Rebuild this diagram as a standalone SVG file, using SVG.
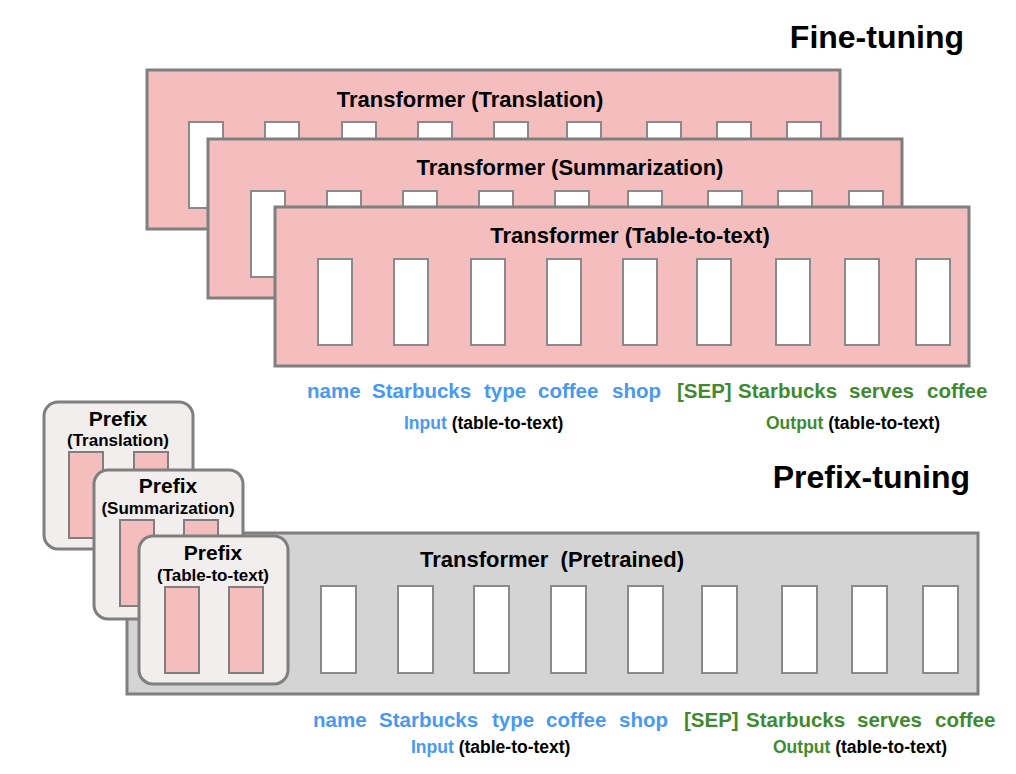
<svg xmlns="http://www.w3.org/2000/svg" width="1016" height="774" viewBox="0 0 1016 774">
<style>
text{font-family:"Liberation Sans",Arial,Helvetica,sans-serif;font-weight:bold}
.big{font-size:32px;fill:#000}
.ttl{font-size:22px;fill:#000;text-anchor:middle}
.pbox{fill:#f4bebe;stroke:#7f7f7f;stroke-width:3}
.gbox{fill:#d4d4d4;stroke:#7f7f7f;stroke-width:3}
.prefix{fill:#f2eeed;stroke:#7f7f7f;stroke-width:3}
.tok{fill:#fff;stroke:#8a8a8a;stroke-width:2}
.ptok{fill:#f4bebe;stroke:#7f7f7f;stroke-width:2}
.pt1{font-size:21px;fill:#000;text-anchor:middle}
.pt2{font-size:17px;fill:#000;text-anchor:middle}
.w{font-size:20.5px}
.in{fill:#4899ef}
.out{fill:#3f8a2e}
.lab{font-size:17.5px;fill:#000}
</style>
<rect width="1016" height="774" fill="#fff"/>

<g id="title-finetuning"><text class="big" x="964" y="48" text-anchor="end">Fine-tuning</text></g>

<g id="ft-translation">
<rect class="pbox" x="147" y="70" width="693" height="159"/>
<text class="ttl" x="470" y="107">Transformer (Translation)</text>
<rect class="tok" x="189" y="122" width="34" height="86"/>
<rect class="tok" x="265" y="122" width="34" height="86"/>
<rect class="tok" x="342" y="122" width="34" height="86"/>
<rect class="tok" x="418" y="122" width="34" height="86"/>
<rect class="tok" x="494" y="122" width="34" height="86"/>
<rect class="tok" x="567" y="122" width="34" height="86"/>
<rect class="tok" x="647" y="122" width="34" height="86"/>
<rect class="tok" x="717" y="122" width="34" height="86"/>
<rect class="tok" x="787" y="122" width="34" height="86"/>
</g>

<g id="ft-summarization">
<rect class="pbox" x="208" y="139" width="694" height="159"/>
<text class="ttl" x="570" y="175">Transformer (Summarization)</text>
<rect class="tok" x="251" y="191" width="34" height="86"/>
<rect class="tok" x="327" y="191" width="34" height="86"/>
<rect class="tok" x="403" y="191" width="34" height="86"/>
<rect class="tok" x="479" y="191" width="34" height="86"/>
<rect class="tok" x="555" y="191" width="34" height="86"/>
<rect class="tok" x="628" y="191" width="34" height="86"/>
<rect class="tok" x="708" y="191" width="34" height="86"/>
<rect class="tok" x="778" y="191" width="34" height="86"/>
<rect class="tok" x="849" y="191" width="34" height="86"/>
</g>

<g id="ft-table">
<rect class="pbox" x="275" y="207" width="694" height="159"/>
<text class="ttl" x="630" y="243">Transformer (Table-to-text)</text>
<rect class="tok" x="318" y="259" width="34" height="86"/>
<rect class="tok" x="394" y="259" width="34" height="86"/>
<rect class="tok" x="471" y="259" width="34" height="86"/>
<rect class="tok" x="547" y="259" width="34" height="86"/>
<rect class="tok" x="623" y="259" width="34" height="86"/>
<rect class="tok" x="697" y="259" width="34" height="86"/>
<rect class="tok" x="776" y="259" width="34" height="86"/>
<rect class="tok" x="845" y="259" width="34" height="86"/>
<rect class="tok" x="916" y="259" width="34" height="86"/>
</g>

<g id="ft-sequence">
<text class="w in" x="307" y="398">name</text>
<text class="w in" x="372" y="398">Starbucks</text>
<text class="w in" x="484" y="398">type</text>
<text class="w in" x="538" y="398">coffee</text>
<text class="w in" x="612" y="398">shop</text>
<text class="w out" x="677" y="398">[SEP]</text>
<text class="w out" x="738" y="398">Starbucks</text>
<text class="w out" x="849" y="398">serves</text>
<text class="w out" x="927" y="398">coffee</text>
<text class="lab" x="404" y="429"><tspan class="in">Input</tspan> (table-to-text)</text>
<text class="lab" x="766" y="429"><tspan class="out">Output</tspan> (table-to-text)</text>
</g>

<g id="title-prefixtuning"><text class="big" x="970" y="488" text-anchor="end">Prefix-tuning</text></g>

<g id="pt-transformer">
<rect class="gbox" x="127" y="533" width="851" height="161"/>
<text class="ttl" x="552" y="567" xml:space="preserve">Transformer  (Pretrained)</text>
<rect class="tok" x="321" y="586" width="35" height="87"/>
<rect class="tok" x="398" y="586" width="35" height="87"/>
<rect class="tok" x="474" y="586" width="35" height="87"/>
<rect class="tok" x="551" y="586" width="35" height="87"/>
<rect class="tok" x="628" y="586" width="35" height="87"/>
<rect class="tok" x="702" y="586" width="35" height="87"/>
<rect class="tok" x="782" y="586" width="35" height="87"/>
<rect class="tok" x="852" y="586" width="35" height="87"/>
<rect class="tok" x="923" y="586" width="35" height="87"/>
</g>

<g id="prefix-translation">
<rect class="prefix" x="44" y="402" width="149" height="147" rx="14"/>
<text class="pt1" x="118" y="426">Prefix</text>
<text class="pt2" x="118" y="446">(Translation)</text>
<rect class="ptok" x="69" y="452" width="34" height="86"/>
<rect class="ptok" x="134" y="452" width="34" height="86"/>
</g>

<g id="prefix-summarization">
<rect class="prefix" x="94" y="470" width="149" height="149" rx="14"/>
<text class="pt1" x="168" y="493">Prefix</text>
<text class="pt2" x="168" y="514">(Summarization)</text>
<rect class="ptok" x="120" y="520" width="34" height="86"/>
<rect class="ptok" x="184" y="520" width="34" height="86"/>
</g>

<g id="prefix-table">
<rect class="prefix" x="139" y="536" width="149" height="148" rx="14"/>
<text class="pt1" x="213" y="560">Prefix</text>
<text class="pt2" x="213" y="581">(Table-to-text)</text>
<rect class="ptok" x="165" y="587" width="34" height="86"/>
<rect class="ptok" x="229" y="587" width="34" height="86"/>
</g>

<g id="pt-sequence">
<text class="w in" x="313" y="727">name</text>
<text class="w in" x="379" y="727">Starbucks</text>
<text class="w in" x="492" y="727">type</text>
<text class="w in" x="546" y="727">coffee</text>
<text class="w in" x="619" y="727">shop</text>
<text class="w out" x="684" y="727">[SEP]</text>
<text class="w out" x="746" y="727">Starbucks</text>
<text class="w out" x="857" y="727">serves</text>
<text class="w out" x="935" y="727">coffee</text>
<text class="lab" x="411" y="753"><tspan class="in">Input</tspan> (table-to-text)</text>
<text class="lab" x="773" y="753"><tspan class="out">Output</tspan> (table-to-text)</text>
</g>

<g id="connectors"></g>
</svg>
